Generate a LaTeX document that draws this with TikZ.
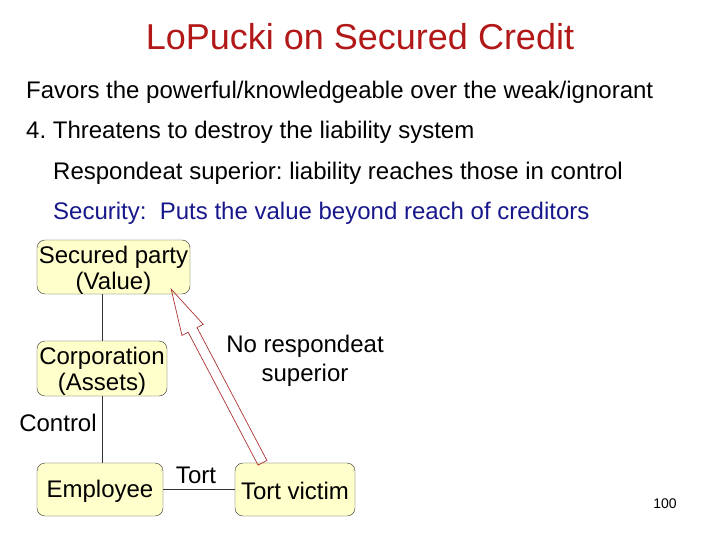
\documentclass[tikz,border=0pt]{standalone}
\usepackage{fontspec}
\setmainfont{Liberation Sans}
\usepackage{tikz}
\usetikzlibrary{calc}

\definecolor{titlered}{RGB}{178,24,24}
\definecolor{secblue}{RGB}{24,24,140}
\definecolor{boxfill}{RGB}{255,255,204}
\definecolor{arrowred}{RGB}{170,50,50}
\newcommand{\lowerby}[2]{\raisebox{-#1}[\height][\depth]{#2}}

\begin{document}
\frenchspacing
\begin{tikzpicture}[x=1pt, y=-1pt,
	txt/.style={inner sep=0pt, anchor=base west, font=\fontsize{24}{27}\selectfont},
	box/.style={draw=black!80, fill=boxfill, rounded corners=8pt, align=center, inner sep=0pt,
		font=\fontsize{24}{27}\selectfont},
	lbl/.style={inner sep=0pt, align=center, font=\fontsize{24}{29}\selectfont}]
	\useasboundingbox (0,0) rectangle (720,540);
	% heading and bullet lines
	\node[titlered, inner sep=0pt, anchor=base, font=\fontsize{36}{40}\selectfont] (title) at (360,50) {LoPucki on Secured Credit};
	\node[txt] (favors) at (26,99) {Favors the powerful/knowledgeable over the weak/ignorant};
	\node[txt] (threat) at (26,139) {4. Threatens to destroy the liability system};
	\node[txt] (resp) at (53,180) {Respondeat superior: liability reaches those in control};
	\node[txt, secblue] (secur) at (53,220) {Security:~~Puts the value beyond reach of creditors};
	% boxes
	\node[box, minimum width=153, minimum height=54] (sp) at (113.5,267) {\lowerby{3pt}{\shortstack{Secured party\\[1pt](Value)}}};
	\node[box, minimum width=130, minimum height=55] (corp) at (102,368.5) {\lowerby{3pt}{\shortstack{Corporation\\[1pt](Assets)}}};
	\node[box, minimum width=126, minimum height=53] (emp) at (100,489.5) {\lowerby{2pt}{Employee}};
	\node[box, minimum width=120, minimum height=53] (victim) at (295,489.5) {\lowerby{1pt}{Tort victim}};
	\draw[black!80] (corp.north) -- (corp.north |- sp.south);
	\draw[black!80] (corp.south) -- (corp.south |- emp.north);
	\draw[black!80] (emp.east) -- (victim.west);
	\node[lbl] (ctl) at (58,423) {Control};
	\node[lbl] (tort) at (196,475) {Tort};
	\node[lbl] (norsp) at (305,361) {No respondeat\\superior};
	% hollow block arrow, victim -> secured party
	\coordinate (tail) at ($(victim.north west)!0.23!(victim.north east)$);
	\coordinate (tip) at ($(sp.south west)!0.876!(sp.south east)+(0,-5)$);
	\coordinate (hb) at ($(tip)!46pt!(tail)$);
	\draw[arrowred, line width=0.7pt, line join=miter]
		(tip) -- ($(hb)!12pt!90:(tip)$) -- ($(hb)!5pt!90:(tip)$) -- ($(tail)!5pt!90:(hb)$)
		-- ($(tail)!5pt!-90:(hb)$) -- ($(hb)!5pt!-90:(tip)$) -- ($(hb)!12pt!-90:(tip)$) -- cycle;
	\node[inner sep=0pt, anchor=base, font=\fontsize{14}{16}\selectfont] (pgno) at (665,508) {100};
\end{tikzpicture}
\end{document}
